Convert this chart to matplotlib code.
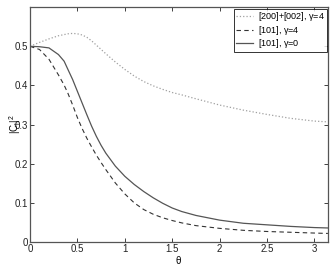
import matplotlib
matplotlib.use("Agg")
import matplotlib.pyplot as plt
import numpy as np

# values
theta = [0.0, 0.1, 0.2, 0.3, 0.36, 0.4, 0.45, 0.5, 0.55, 0.6, 0.65, 0.7, 0.75, 0.8,
         0.9, 1.0, 1.1, 1.2, 1.3, 1.4, 1.5, 1.6, 1.75, 2.0, 2.25, 2.5, 2.75, 3.0, np.pi]
dot_g4 = [0.500, 0.510, 0.519, 0.527, 0.530, 0.532, 0.533, 0.532, 0.529, 0.523,
          0.514, 0.503, 0.492, 0.481, 0.460, 0.441, 0.424, 0.410, 0.399, 0.390,
          0.382, 0.376, 0.366, 0.350, 0.337, 0.326, 0.316, 0.309, 0.307]
dash_g4 = [0.500, 0.492, 0.467, 0.427, 0.401, 0.380, 0.350, 0.318, 0.290, 0.265,
           0.243, 0.222, 0.203, 0.185, 0.151, 0.123, 0.100, 0.083, 0.071, 0.062,
           0.055, 0.049, 0.042, 0.035, 0.030, 0.027, 0.025, 0.023, 0.022]
solid_g0 = [0.500, 0.499, 0.496, 0.479, 0.462, 0.441, 0.415, 0.385, 0.355, 0.325,
            0.296, 0.270, 0.247, 0.227, 0.194, 0.168, 0.147, 0.129, 0.113, 0.099,
            0.087, 0.078, 0.068, 0.056, 0.048, 0.044, 0.040, 0.037, 0.036]
labels = ['[200]+[002], $\\gamma$=4', '[101], $\\gamma$=4', '[101], $\\gamma$=0']

plt.rcParams['font.family'] = ['Liberation Sans', 'DejaVu Sans']
plt.rcParams['mathtext.fontset'] = 'custom'
plt.rcParams['mathtext.rm'] = 'Liberation Sans'
plt.rcParams['mathtext.it'] = 'Liberation Sans'

fig = plt.figure(figsize=(3.31, 2.66), dpi=100)
ax = fig.add_axes([0.0906, 0.090, 0.900, 0.883])

ax.plot(theta, dot_g4, ':', color='#a0a0a0', lw=0.9, label=labels[0])
ax.plot(theta, dash_g4, '--', color='#333333', lw=0.8, dashes=(4, 3), label=labels[1])
ax.plot(theta, solid_g0, '-', color='#555555', lw=0.9, label=labels[2])

ax.set_xlim(0, np.pi)
ax.set_ylim(0, 0.6)
ax.set_xticks([0, 0.5, 1, 1.5, 2, 2.5, 3])
ax.set_xticklabels(['0', '0.5', '1', '1.5', '2', '2.5', '3'])
ax.set_yticks([0, 0.1, 0.2, 0.3, 0.4, 0.5])
ax.set_yticklabels(['0', '0.1', '0.2', '0.3', '0.4', '0.5'])
ax.tick_params(direction='in', top=True, right=True, length=3, width=0.6,
               labelsize=7, pad=1.5, colors='#222222')
for s in ax.spines.values():
    s.set_color('#555555')
    s.set_linewidth(0.9)

ax.set_xlabel('$\\theta$', fontsize=7, labelpad=0)
ax.set_ylabel('$|C_l|^2$', fontsize=7, labelpad=-6)

leg = ax.legend(loc='upper right', fontsize=6.5, frameon=True, fancybox=False,
                handlelength=1.8, borderaxespad=0.15, borderpad=0.2,
                labelspacing=0.05, handletextpad=0.6)
leg.get_frame().set_edgecolor('black')
leg.get_frame().set_linewidth(0.7)

fig.savefig('out.png', dpi=100)
